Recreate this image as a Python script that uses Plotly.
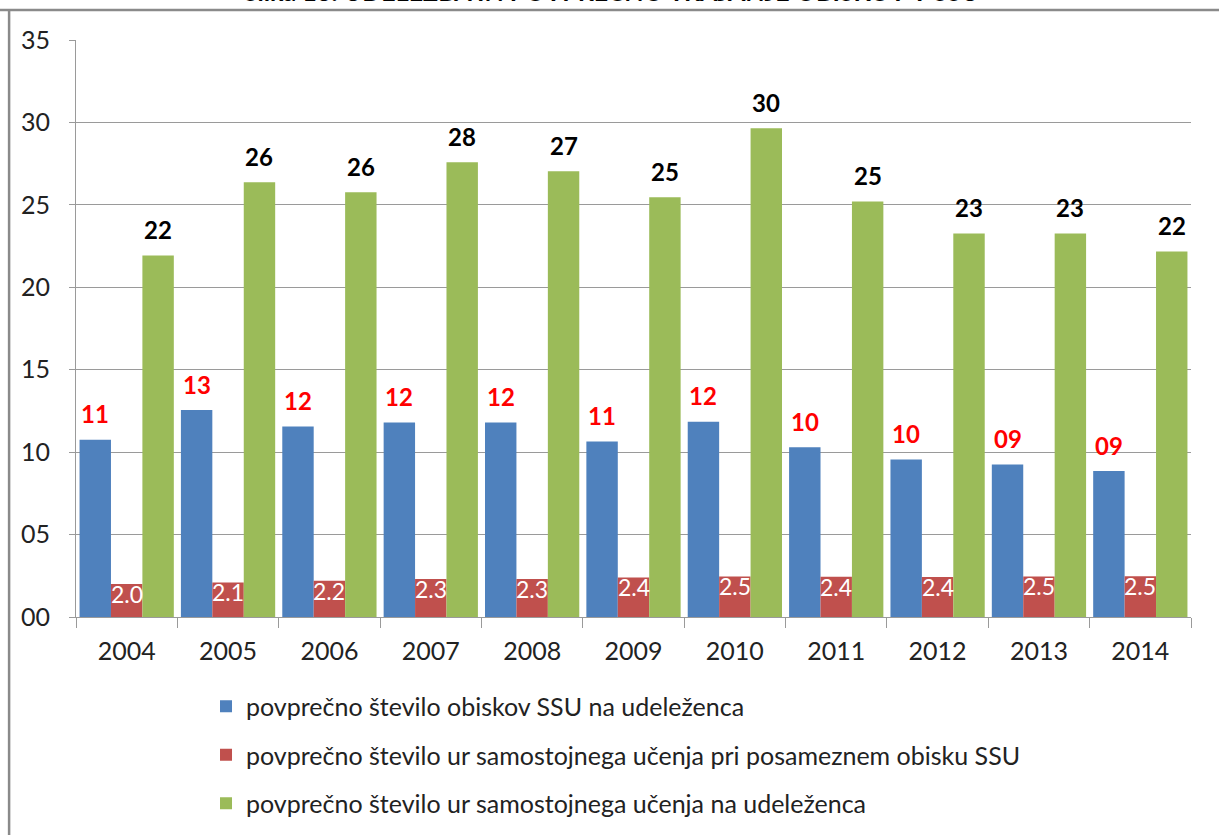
import plotly.graph_objects as go

years = [2004, 2005, 2006, 2007, 2008, 2009, 2010, 2011, 2012, 2013, 2014]
obiski = [10.75, 12.55, 11.55, 11.8, 11.8, 10.65, 11.85, 10.3, 9.55, 9.25, 8.85]
ure_obisk = [2.0, 2.1, 2.2, 2.3, 2.3, 2.4, 2.46, 2.44, 2.43, 2.46, 2.47]
ure_udel = [21.93, 26.37, 25.76, 27.58, 27.04, 25.46, 29.65, 25.21, 23.27, 23.27, 22.17]

names = [
    "povprečno število obiskov SSU na udeleženca",
    "povprečno število ur samostojnega učenja pri posameznem obisku SSU",
    "povprečno število ur samostojnega učenja na udeleženca",
]
colors = ["#4F81BD", "#C0504D", "#9BBB59"]
title_text = "Slika 13: UDELEŽBA IN POVPREČNO TRAJANJE OBISKOV V SSU"

FONT = "Lato"
BARGAP = 0.07
W = (1 - BARGAP) / 3

fig = go.Figure()
for i, (vals, name, col) in enumerate(zip([obiski, ure_obisk, ure_udel], names, colors)):
    fig.add_trace(go.Bar(
        x=years, y=vals, name=name, marker=dict(color=col, line=dict(width=0)),
        legendgroup=str(i), hoverinfo="skip",
    ))

ann = []
for yr, v in zip(years, obiski):
    ann.append(dict(x=yr - W, y=v, xref="x", yref="y", text=f"{v:02.0f}", showarrow=False,
                    yanchor="middle", yshift=26,
                    font=dict(family=FONT, size=24, color="#FF0000", weight="bold")))
for yr, v in zip(years, ure_obisk):
    ann.append(dict(x=yr, y=v, xref="x", yref="y", text=f"{v:.1f}", showarrow=False,
                    yanchor="middle", yshift=-10,
                    font=dict(family=FONT, size=23, color="#FFFFFF")))
for yr, v in zip(years, ure_udel):
    ann.append(dict(x=yr + W, y=v, xref="x", yref="y", text=f"{v:.0f}", showarrow=False,
                    yanchor="middle", yshift=26,
                    font=dict(family=FONT, size=24, color="#000000", weight="bold")))
ann.append(dict(x=0.48, y=1, xref="paper", yref="paper", text=title_text, showarrow=False,
                yanchor="bottom", yshift=32,
                font=dict(family=FONT, size=25, color="#000000", weight="bold")))

frame = "#8a8a8a"
shapes = [
    dict(type="line", xref="paper", yref="paper", x0=-0.07, x1=1.03, y0=1.052, y1=1.052,
         line=dict(color=frame, width=2.5)),
    dict(type="line", xref="paper", yref="paper", x0=-0.06, x1=-0.06, y0=1.052, y1=-0.5,
         line=dict(color=frame, width=2.5)),
]

grid = "#9a9a9a"
fig.update_layout(
    width=1219, height=835,
    margin=dict(l=76, r=28, t=40, b=218, autoexpand=False),
    paper_bgcolor="white", plot_bgcolor="white",
    barmode="group", bargap=BARGAP, bargroupgap=0,
    font=dict(family=FONT, size=25, color="#222222"),
    annotations=ann, shapes=shapes,
    showlegend=True,
    legend=dict(orientation="v", xref="container", yref="container",
                x=0.169, xanchor="left", y=0.1814, yanchor="top",
                font=dict(family=FONT, size=25, color="#222222"),
                tracegroupgap=13, bgcolor="rgba(0,0,0,0)"),
    xaxis=dict(range=[2003.5, 2014.5], tickvals=years, ticktext=[str(y) for y in years],
               ticks="", showgrid=False, showline=True, linecolor=grid, linewidth=1,
               ticklabelstandoff=12, tickfont=dict(size=25),
               minor=dict(tick0=2003.5, dtick=1, ticks="outside", ticklen=10,
                          tickcolor=grid, showgrid=False)),
    yaxis=dict(range=[0, 35], dtick=5, tickformat="02d", showgrid=True, gridcolor=grid,
               gridwidth=1, showline=True, linecolor=grid, linewidth=1, ticks="outside",
               ticklen=6, tickcolor=grid, zeroline=False, tickfont=dict(size=25),
               ticklabelstandoff=14),
)

fig.write_html("out.html", config={"displayModeBar": False},
               post_script="document.body.style.margin='0px';")
